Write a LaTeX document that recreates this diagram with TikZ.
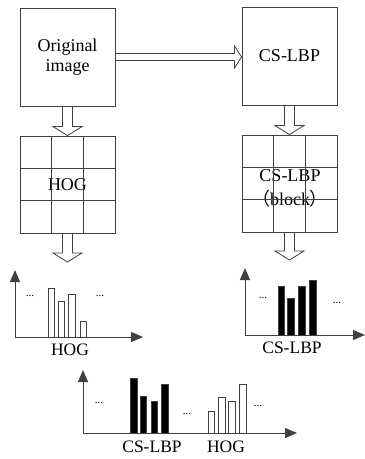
\documentclass[tikz,border=0pt]{standalone}
\usepackage{fontspec}
\setmainfont{Liberation Serif}
\newfontfamily\cjk{Noto Sans CJK SC}
\usepackage{xcolor}
\usepackage{tikz}
\usetikzlibrary{arrows.meta, calc, positioning}
\definecolor{linegray}{RGB}{64,64,64}
\tikzset{
  box/.style={draw=linegray, line width=0.9pt, minimum width=95pt, minimum height=98pt, inner sep=0pt, align=center, font=\fontsize{18}{20}\selectfont},
  gridbox/.style={draw=linegray, line width=0.9pt, minimum width=95pt, minimum height=97pt, inner sep=0pt, align=center, font=\fontsize{18}{20}\selectfont},
  gridline/.style={draw=linegray, line width=0.9pt},
  hollow down/.style={draw=linegray, line width=0.8pt, fill=white, to path={let \p1=(\tikztostart), \p2=(\tikztotarget) in
    (\x1-5pt,\y1) -- (\x1-5pt,\y2+9pt) -- (\x1-14.5pt,\y2+9pt) -- (\x1,\y2) -- (\x1+14.5pt,\y2+9pt) -- (\x1+5pt,\y2+9pt) -- (\x1+5pt,\y1) -- cycle}},
  hollow right/.style={draw=linegray, line width=0.8pt, fill=white, to path={let \p1=(\tikztostart), \p2=(\tikztotarget) in
    (\x1,\y1+3.5pt) -- (\x2-7pt,\y1+3.5pt) -- (\x2-7pt,\y1+11pt) -- (\x2,\y1) -- (\x2-7pt,\y1-11pt) -- (\x2-7pt,\y1-3.5pt) -- (\x1,\y1-3.5pt) -- cycle}},
  axis/.style={draw=linegray, line width=1pt, -{Triangle[length=12pt, width=10pt]}},
  barwhite/.style={draw=linegray, line width=0.8pt, fill=white},
  barblack/.style={draw=linegray, line width=0.8pt, fill=black},
  lbl/.style={inner sep=0pt, font=\fontsize{17.5}{20}\selectfont},
  dots/.style={inner sep=0pt, anchor=base, font=\fontsize{11}{12}\selectfont}
}
\begin{document}
\begin{tikzpicture}[x=1pt, y=-1pt]
  \useasboundingbox (0,0) rectangle (365,459);

  % top row
  \node[box] (orig) at (67.5,57) {Original\\image};
  \node[box] (cslbp) at (289.5,56) {CS-LBP};
  \draw[hollow right] (orig.east) to (cslbp.west);

  % cell grids
  \node[gridbox] (hoggrid) at (67.5,184.5) {HOG};
  \node[gridbox] (blockgrid) at (289.5,183.5) {};
  \node[lbl, align=center, font=\fontsize{18}{24}\selectfont] (blocktext) at (290,188) {CS-LBP\\{\cjk （}block{\cjk ）}};
  \foreach \g in {hoggrid, blockgrid}{
    \foreach \f in {1/3, 2/3}{
      \draw[gridline] ($(\g.north west)!\f!(\g.north east)$) -- ($(\g.south west)!\f!(\g.south east)$);
      \draw[gridline] ($(\g.north west)!\f!(\g.south west)$) -- ($(\g.north east)!\f!(\g.south east)$);
    }
  }
  \draw[hollow down] (orig.south) to (hoggrid.north);
  \draw[hollow down] (cslbp.south) to (blockgrid.north);

  \coordinate (hogtip) at (67.5,262);
  \coordinate (blocktip) at (289.5,260);
  \draw[hollow down] (hoggrid.south) to (hogtip);
  \draw[hollow down] (blockgrid.south) to (blocktip);

  % HOG histogram
  \coordinate (o1) at (15,337);
  \draw[axis] (o1) -- (15,270);
  \draw[axis] (o1) -- (143,337);
  \foreach \x/\t in {48/288, 58/301, 68.5/294, 80/321}
    \draw[barwhite] (\x,337) rectangle (\x+6.5,\t);
  \node[dots] (d1) at (30,296) {...};
  \node[dots] (d2) at (100,296) {...};
  \node[lbl] (hoglbl) at (70,350) {HOG};

  % CS-LBP histogram
  \coordinate (o2) at (245,335);
  \draw[axis] (o2) -- (245,268);
  \draw[axis] (o2) -- (365,335);
  \foreach \x/\t in {278/286, 287.5/298, 298.5/286, 309.5/280}
    \draw[barblack] (\x,335) rectangle (\x+6.5,\t);
  \node[dots] (d3) at (263,298) {...};
  \node[dots] (d4) at (337,303) {...};
  \node[lbl] (cslbplbl) at (292,348) {CS-LBP};

  % combined histogram
  \coordinate (o3) at (83,433);
  \draw[axis] (o3) -- (83,370);
  \draw[axis] (o3) -- (297,433);
  \foreach \x/\t in {130.5/378, 140/396, 151/401, 161.5/384}
    \draw[barblack] (\x,433) rectangle (\x+6.5,\t);
  \foreach \x/\t in {208/411, 218.5/397, 228.5/401, 239.5/384}
    \draw[barwhite] (\x,433) rectangle (\x+6.5,\t);
  \node[dots] (d5) at (99,403) {...};
  \node[dots] (d6) at (187,414) {...};
  \node[dots] (d7) at (258,406) {...};
  \node[lbl] (cslbplbl2) at (152,447) {CS-LBP};
  \node[lbl] (hoglbl2) at (226,447) {HOG};
\end{tikzpicture}
\end{document}
